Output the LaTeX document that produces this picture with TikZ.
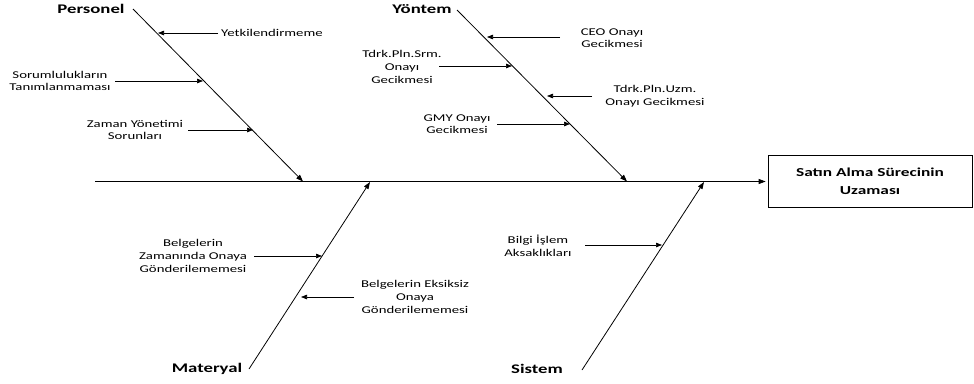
\documentclass[tikz,border=0pt]{standalone}
\usepackage{fontspec}
\setmainfont{Carlito}[FakeStretch=1.42]
\usetikzlibrary{arrows.meta}
\tikzset{
  bone/.style={line width=0.8pt,-{Triangle[length=7pt,width=5pt]}},
  cause/.style={line width=0.7pt,-{Triangle[length=6pt,width=4.5pt]}},
  lbl/.style={font=\fontsize{10.4}{12.6}\selectfont,align=center,inner sep=0pt},
  cat/.style={font=\fontsize{13.2}{15}\selectfont\bfseries,inner sep=0pt},
  effect/.style={draw,line width=0.7pt,minimum width=204pt,minimum height=52pt,align=center,
    font=\fontsize{12.2}{18}\selectfont\bfseries,inner sep=0pt}
}
\begin{document}
\begin{tikzpicture}[x=1pt,y=-1pt]
\useasboundingbox (0,0) rectangle (974,383);
% effect box and spine
\node[effect] (eff) at (870,181) {Satın Alma Sürecinin\\Uzaması};
\coordinate (sp0) at (95,181.5);
\draw[bone,shorten >=2pt] (sp0) -- (eff.west |- sp0);
% bones
\coordinate (p0) at (133,9);   \coordinate (p1) at (303,181.5);
\coordinate (y0) at (457,10);  \coordinate (y1) at (627,181.5);
\coordinate (m0) at (249,369); \coordinate (m1) at (370,182);
\coordinate (s0) at (582,370); \coordinate (s1) at (704,182);
\draw[bone] (p0) -- (p1);
\draw[bone] (y0) -- (y1);
\draw[bone] (m0) -- (m1);
\draw[bone] (s0) -- (s1);
% category labels
\node[cat] (personel) at (91,9) {Personel};
\node[cat] (yontem) at (422,9) {Yöntem};
\node[cat] (materyal) at (207,369) {Materyal};
\node[cat] (sistem) at (537,369) {Sistem};
% Personel causes
\node[lbl,anchor=west] (c1) at (221,33) {Yetkilendirmeme};
\coordinate (c1a) at (218,33); \coordinate (c1b) at (158,33);
\draw[cause] (c1a) -- (c1b);
\node[lbl] (c2) at (60,81) {Sorumlulukların\\Tanımlanmaması};
\coordinate (c2a) at (115,81); \coordinate (c2b) at (203,81);
\draw[cause] (c2a) -- (c2b);
\node[lbl] (c3) at (135,130) {Zaman Yönetimi\\Sorunları};
\coordinate (c3a) at (188,130); \coordinate (c3b) at (253,130);
\draw[cause] (c3a) -- (c3b);
% Yontem causes
\node[lbl] (c4) at (612,38) {CEO Onayı\\Gecikmesi};
\coordinate (c4a) at (560,37); \coordinate (c4b) at (487,37);
\draw[cause] (c4a) -- (c4b);
\node[lbl] (c5) at (402,67) {Tdrk.Pln.Srm.\\Onayı\\Gecikmesi};
\coordinate (c5a) at (439,66); \coordinate (c5b) at (512,66);
\draw[cause] (c5a) -- (c5b);
\node[lbl] (c6) at (655,96) {Tdrk.Pln.Uzm.\\Onayı Gecikmesi};
\coordinate (c6a) at (592,96); \coordinate (c6b) at (547,96);
\draw[cause] (c6a) -- (c6b);
\node[lbl] (c7) at (457,124) {GMY Onayı\\Gecikmesi};
\coordinate (c7a) at (497,124); \coordinate (c7b) at (570,124);
\draw[cause] (c7a) -- (c7b);
% Materyal causes
\node[lbl] (c8) at (193,256) {Belgelerin\\Zamanında Onaya\\Gönderilememesi};
\coordinate (c8a) at (254,256); \coordinate (c8b) at (322,256);
\draw[cause] (c8a) -- (c8b);
\node[lbl] (c9) at (415,297) {Belgelerin Eksiksiz\\Onaya\\Gönderilememesi};
\coordinate (c9a) at (354,297); \coordinate (c9b) at (301,297);
\draw[cause] (c9a) -- (c9b);
% Sistem causes
\node[lbl] (c10) at (538,246) {Bilgi İşlem\\Aksaklıkları};
\coordinate (c10a) at (585,245); \coordinate (c10b) at (662,245);
\draw[cause] (c10a) -- (c10b);
\end{tikzpicture}
\end{document}
